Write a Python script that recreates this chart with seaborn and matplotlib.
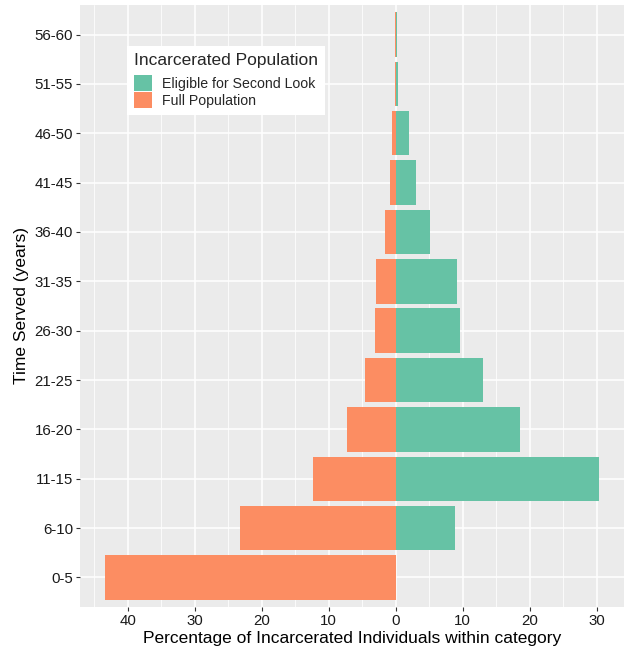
import pandas as pd
import matplotlib.pyplot as plt
import seaborn as sns
from matplotlib.ticker import FixedLocator

# dados (percentual dentro de cada categoria)
faixas = ["56-60", "51-55", "46-50", "41-45", "36-40", "31-35",
          "26-30", "21-25", "16-20", "11-15", "6-10", "0-5"]
elegiveis = [0.15, 0.4, 2.0, 3.1, 5.1, 9.1, 9.6, 13.0, 18.6, 30.4, 8.9, 0.0]
populacao = [0.05, 0.15, 0.5, 0.9, 1.5, 2.9, 3.1, 4.5, 7.2, 12.35, 23.2, 43.4]

grupos = ["Eligible for Second Look", "Full Population"]
cores = {"Eligible for Second Look": "#66C2A5", "Full Population": "#FC8D62"}

df = pd.DataFrame({
    "faixa": faixas * 2,
    "pct": elegiveis + [-v for v in populacao],
    "grupo": [grupos[0]] * len(faixas) + [grupos[1]] * len(faixas),
})

sns.set_theme(style="darkgrid", rc={
    "axes.facecolor": "#EBEBEB",
    "grid.color": "white",
    "figure.facecolor": "white",
})
plt.rcParams["font.family"] = ["Liberation Sans", "DejaVu Sans"]

fig = plt.figure(figsize=(6.24, 6.5), dpi=100)
ax = fig.add_axes([80 / 624, 43 / 650, 544 / 624, 602 / 650])

sns.barplot(data=df, y="faixa", x="pct", hue="grupo", order=faixas,
            hue_order=grupos, palette=cores, dodge=False, width=0.9,
            orient="h", linewidth=0, saturation=1, ax=ax)

ax.set_xlim(-47.1, 34.1)
ax.set_ylim(11.6, -0.6)

ticks = [-40, -30, -20, -10, 0, 10, 20, 30]
ax.xaxis.set_major_locator(FixedLocator(ticks))
ax.set_xticklabels([str(abs(t)) for t in ticks])
ax.xaxis.set_minor_locator(FixedLocator([-45, -35, -25, -15, -5, 5, 15, 25]))
ax.grid(which="major", color="white", linewidth=1.1)
ax.grid(which="minor", axis="x", color="white", linewidth=0.55)
ax.set_axisbelow(True)

for s in ax.spines.values():
    s.set_visible(False)

ax.tick_params(axis="both", which="major", length=3, width=0.8, color="#333333",
               labelsize=10.8, labelcolor="#1A1A1A", pad=2)
ax.tick_params(axis="both", which="minor", length=0)
ax.tick_params(axis="x", bottom=True)
ax.tick_params(axis="y", left=True)

ax.set_xlabel("Percentage of Incarcerated Individuals within category",
              fontsize=12.5, color="black", labelpad=2)
ax.set_ylabel("Time Served (years)", fontsize=12.5, color="black", labelpad=4)

h, l = ax.get_legend_handles_labels()
leg = ax.legend(h, l, title="Incarcerated Population", loc="upper left",
                bbox_to_anchor=(0.0864, 0.932), borderaxespad=0,
                frameon=True, fancybox=False,
                facecolor="white", edgecolor="white", framealpha=1,
                fontsize=10.2, title_fontsize=12.5, alignment="left",
                handlelength=1.25, handleheight=1.4, handletextpad=0.7,
                labelspacing=0.05, borderpad=0.5)
leg.get_frame().set_linewidth(0)
leg._legend_box.sep = 5

fig.savefig("out.png", dpi=100)
